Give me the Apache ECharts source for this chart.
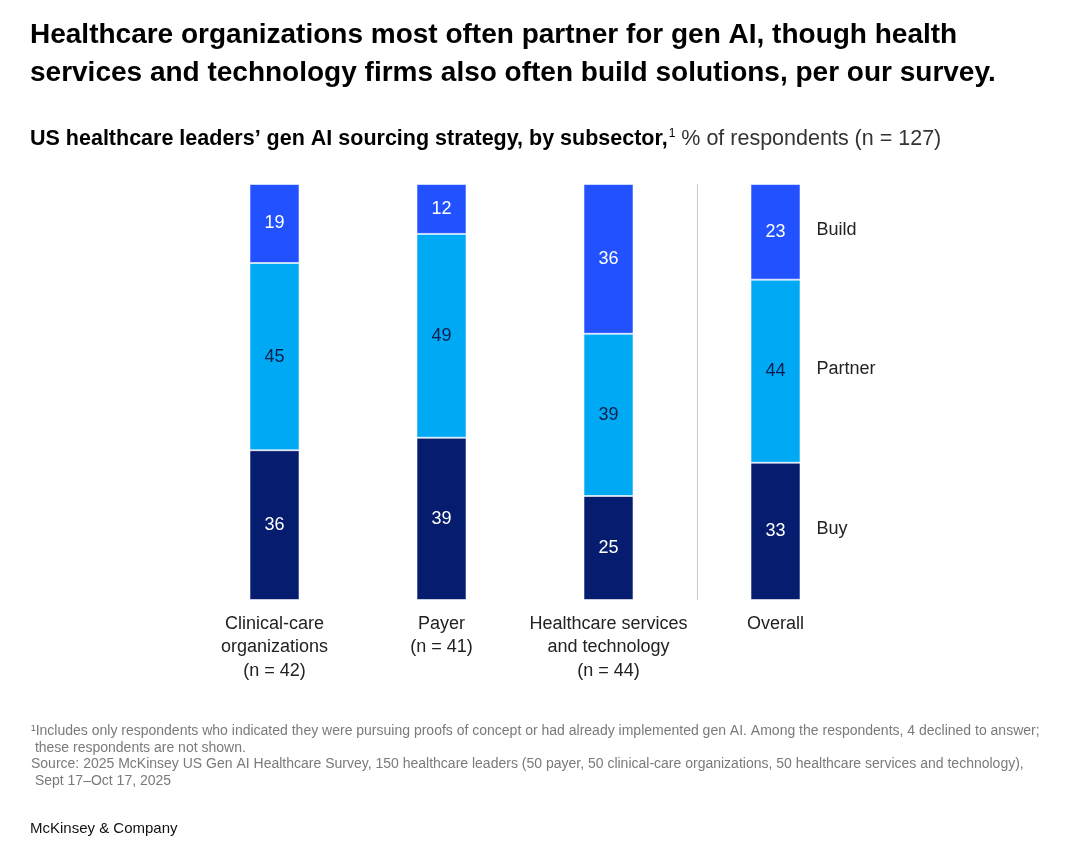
<!DOCTYPE html>
<html>
<head>
<meta charset="utf-8">
<script src="https://cdn.jsdelivr.net/npm/echarts@6/dist/echarts.min.js"></script>
<style>
  html, body { margin: 0; padding: 0; background: #fff; }
  #chart { width: 1080px; height: 852px; }
</style>
</head>
<body>
<div id="chart"></div>
<script>
// 分类与数据（% of respondents）
const categories = [
  'Clinical-care\norganizations\n(n = 42)',
  'Payer\n(n = 41)',
  'Healthcare services\nand technology\n(n = 44)',
  'Overall'
];
const buyValues = [36, 39, 25, 33];
const partnerValues = [45, 49, 39, 44];
const buildValues = [19, 12, 36, 23];

const seriesNames = ['Buy', 'Partner', 'Build'];
const colors = ['#051C6F', '#00A9F4', '#2251FF'];
const textColors = ['#ffffff', '#0B1F4F', '#ffffff'];

const FONT = '"Liberation Sans", Arial, sans-serif';

// 图例标签放在 Overall 柱子右侧，位置取各段中点
function legendPoint(values, below, idx) {
  const last = values.length - 1;
  const base = below.reduce((s, arr) => s + arr[last], 0);
  return [{
    coord: [categories[last], base + values[last] / 2],
    symbolSize: 0,
    label: {
      show: true,
      formatter: seriesNames[idx],
      position: 'right',
      offset: [36, -2],
      color: '#222',
      fontSize: 18,
      fontFamily: FONT
    }
  }];
}

const stackData = [buyValues, partnerValues, buildValues];

const series = stackData.map((values, i) => ({
  name: seriesNames[i],
  type: 'bar',
  stack: 'total',
  barWidth: 50,
  data: values,
  itemStyle: {
    color: colors[i],
    borderColor: 'rgba(255,255,255,0.55)',
    borderWidth: 1
  },
  label: {
    show: true,
    position: 'inside',
    color: textColors[i],
    fontSize: 18,
    fontFamily: FONT
  },
  markPoint: {
    symbol: 'circle',
    symbolSize: 0,
    silent: true,
    data: legendPoint(values, stackData.slice(0, i), i)
  }
}));

// 分隔线：用一个隐藏的数值 x 轴定位 Overall 左侧
series.push({
  type: 'line',
  xAxisIndex: 1,
  data: [],
  silent: true,
  markLine: {
    symbol: 'none',
    silent: true,
    label: { show: false },
    lineStyle: { color: '#c8c8c8', width: 1, type: 'solid' },
    data: [{ xAxis: 3.03 }]
  }
});

const chart = echarts.init(document.getElementById('chart'));

chart.setOption({
  backgroundColor: '#ffffff',
  animation: false,
  title: [
    {
      text: 'Healthcare organizations most often partner for gen AI, though health\nservices and technology firms also often build solutions, per our survey.',
      left: 25,
      top: 11,
      textStyle: {
        fontFamily: FONT,
        fontWeight: 'bold',
        fontSize: 28,
        lineHeight: 38,
        color: '#000'
      }
    },
    {
      text: '{b|US healthcare leaders\u2019 gen AI sourcing strategy, by subsector,}{s|1}{r| % of respondents (n = 127)}',
      left: 25,
      top: 123,
      textStyle: {
        rich: {
          b: { fontFamily: FONT, fontWeight: 'bold', fontSize: 21.5, color: '#000' },
          s: { fontFamily: FONT, fontWeight: 'normal', fontSize: 12, color: '#000', verticalAlign: 'top', padding: [0, 0, 9, 1] },
          r: { fontFamily: FONT, fontWeight: 'normal', fontSize: 21.5, color: '#333' }
        }
      }
    },
    {
      text: '\u00B9Includes only respondents who indicated they were pursuing proofs of concept or had already implemented gen AI. Among the respondents, 4 declined to answer;\n these respondents are not shown.\nSource: 2025 McKinsey US Gen AI Healthcare Survey, 150 healthcare leaders (50 payer, 50 clinical-care organizations, 50 healthcare services and technology),\n Sept 17\u2013Oct 17, 2025',
      left: 26,
      top: 718,
      textStyle: {
        fontFamily: FONT,
        fontWeight: 'normal',
        fontSize: 14,
        lineHeight: 16.5,
        color: '#7a7a7a'
      }
    },
    {
      text: 'McKinsey & Company',
      left: 25,
      top: 816,
      textStyle: {
        fontFamily: FONT,
        fontWeight: 'normal',
        fontSize: 15,
        color: '#111'
      }
    }
  ],
  grid: {
    left: 191,
    width: 668,
    top: 184,
    height: 416,
    containLabel: false
  },
  xAxis: [
    {
      type: 'category',
      data: categories,
      axisLine: { show: false },
      axisTick: { show: false },
      splitLine: { show: false },
      axisLabel: {
        color: '#222',
        fontSize: 18,
        lineHeight: 23.5,
        fontFamily: FONT,
        margin: 12,
        interval: 0
      }
    },
    {
      type: 'value',
      min: 0,
      max: 4,
      show: false
    }
  ],
  yAxis: {
    type: 'value',
    min: 0,
    max: 100,
    show: false
  },
  series: series
});
</script>
</body>
</html>
